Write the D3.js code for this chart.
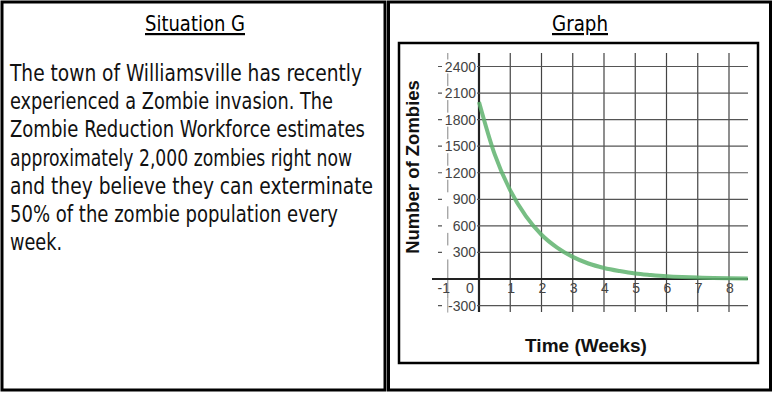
<!DOCTYPE html>
<html>
<head>
<meta charset="utf-8">
<script src="https://cdnjs.cloudflare.com/ajax/libs/d3/7.8.5/d3.min.js"></script>
<style>
  body { margin: 0; background: #fff; }
</style>
</head>
<body>
<div id="chart"></div>
<script>
// text of the situation card, one entry per handwritten line
var storyLines = ['The town of Williamsville has recently',
    'experienced a Zombie invasion. The',
    'Zombie Reduction Workforce estimates',
    'approximately 2,000 zombies right now',
    'and they believe they can exterminate',
    '50% of the zombie population every',
    'week.']
var storyWidths = [352, 323, 355, 342, 363, 328, 52]

// curve
var weeks = [0, 0.5, 1, 1.5, 2, 2.5, 3, 3.5, 4, 4.5, 5, 5.5, 6, 6.5, 7, 7.5, 8, 8.6]
var zombies = [2000, 1410, 1000, 710, 500, 355, 250, 175, 125, 90, 62, 45, 31, 22, 16, 11, 8, 5]

var xTicks = [-1, 0, 1, 2, 3, 4, 5, 6, 7, 8]
var yTicks = [-300, 0, 300, 600, 900, 1200, 1500, 1800, 2100, 2400]

var W = 775, H = 393
var hand = '"Liberation Sans Narrow", "DejaVu Sans Condensed", "Arial Narrow", sans-serif'
var sans = '"Liberation Sans", Arial, sans-serif'

var svg = d3.select("#chart")
    .append("svg")
    .attr("width", W)
    .attr("height", H)

// panel frames
svg.append("rect").attr("x", 2).attr("y", 2).attr("width", 383).attr("height", 388)
    .style("fill", "none").style("stroke", "#000").style("stroke-width", 3)
svg.append("rect").attr("x", 388.5).attr("y", 2).attr("width", 382).attr("height", 388)
    .style("fill", "none").style("stroke", "#000").style("stroke-width", 3)

// titles
function title(txt, cx, y, w) {
    svg.append("text")
        .attr("x", cx).attr("y", y)
        .attr("text-anchor", "middle")
        .attr("textLength", w).attr("lengthAdjust", "spacingAndGlyphs")
        .style("font-family", hand).style("font-size", "22px")
        .style("text-decoration", "underline")
        .text(txt)
}
title("Situation G", 195, 31, 100)
title("Graph", 580, 31, 56)

// story text
svg.selectAll(".story")
    .data(storyLines)
    .enter()
    .append("text")
    .attr("class", "story")
    .attr("x", 10)
    .attr("y", function (d, i) { return 81 + i * 28.2 })
    .attr("textLength", function (d, i) { return storyWidths[i] })
    .attr("lengthAdjust", "spacingAndGlyphs")
    .style("font-family", hand).style("font-size", "23px")
    .style("fill", "#111")
    .text(function (d) { return d })

// graph box
svg.append("rect").attr("x", 399).attr("y", 43).attr("width", 359).attr("height", 320)
    .style("fill", "none").style("stroke", "#000").style("stroke-width", 2.5)

var x = d3.scaleLinear().domain([0, 8]).range([479, 729])
var y = d3.scaleLinear().domain([0, 2400]).range([279, 66.5])

var gTop = 53, gBottom = 312, gLeft = 438, gRight = 748

var grid = svg.append("g")
// vertical grid lines
grid.selectAll(".vl")
    .data(xTicks)
    .enter()
    .append("line")
    .attr("x1", function (d) { return x(d) })
    .attr("x2", function (d) { return x(d) })
    .attr("y1", gTop).attr("y2", gBottom)
    .style("stroke", function (d) { return d == 0 ? "#222" : (d == -1 ? "#999" : "#444") })
    .style("stroke-width", function (d) { return d == 0 ? 2.2 : 1.2 })
// horizontal grid lines
grid.selectAll(".hl")
    .data(yTicks)
    .enter()
    .append("line")
    .attr("x1", function (d) { return d == 0 ? 432 : gLeft })
    .attr("x2", gRight)
    .attr("y1", function (d) { return y(d) })
    .attr("y2", function (d) { return y(d) })
    .style("stroke", function (d) { return d == 0 ? "#222" : "#555" })
    .style("stroke-width", function (d) { return d == 0 ? 2.2 : 1.2 })

// y tick labels with white backing
var yLab = svg.append("g")
var yl = yTicks.filter(function (d) { return d != 0 })
yLab.selectAll("rect")
    .data(yl)
    .enter()
    .append("rect")
    .attr("x", 442).attr("width", 35)
    .attr("y", function (d) { return y(d) - 7 })
    .attr("height", 14)
    .style("fill", "#fff")
yLab.selectAll("text")
    .data(yl)
    .enter()
    .append("text")
    .attr("x", 476)
    .attr("y", function (d) { return y(d) + 5 })
    .attr("text-anchor", "end")
    .style("font-family", sans)
    .style("font-size", "14px")
    .style("fill", "#444")
    .text(function (d) { return d })
// redraw the x=-1 line through the -300 label
svg.append("line")
    .attr("x1", x(-1)).attr("x2", x(-1))
    .attr("y1", y(-300) - 7).attr("y2", y(-300) + 7)
    .style("stroke", "#999").style("stroke-width", 1)

// x tick labels
svg.selectAll(".xl")
    .data(xTicks)
    .enter()
    .append("text")
    .attr("class", "xl")
    .attr("x", function (d) { return d == 0 ? x(d) - 9 : (d == -1 ? x(d) - 4 : x(d) + 1) })
    .attr("y", 293)
    .attr("text-anchor", "middle")
    .style("font-family", sans)
    .style("font-size", "14px")
    .style("fill", "#444")
    .text(function (d) { return d })

// decay curve
var pts = weeks.map(function (w, i) { return [w, zombies[i]] })
var line = d3.line()
    .x(function (d) { return x(d[0]) })
    .y(function (d) { return y(d[1]) })
    .curve(d3.curveMonotoneX)
svg.append("path")
    .datum(pts)
    .attr("d", line)
    .style("fill", "none")
    .style("stroke", "#5fb36f")
    .style("stroke-opacity", 0.85)
    .style("stroke-width", 4)

// axis titles
svg.append("text")
    .attr("transform", "translate(419,167) rotate(-90)")
    .attr("text-anchor", "middle")
    .style("font-family", sans)
    .style("font-weight", "bold")
    .style("font-size", "18.5px")
    .style("fill", "#111")
    .text("Number of Zombies")
svg.append("text")
    .attr("x", 586).attr("y", 352)
    .attr("text-anchor", "middle")
    .style("font-family", sans)
    .style("font-weight", "bold")
    .style("font-size", "19px")
    .style("fill", "#111")
    .text("Time (Weeks)")
</script>
</body>
</html>
